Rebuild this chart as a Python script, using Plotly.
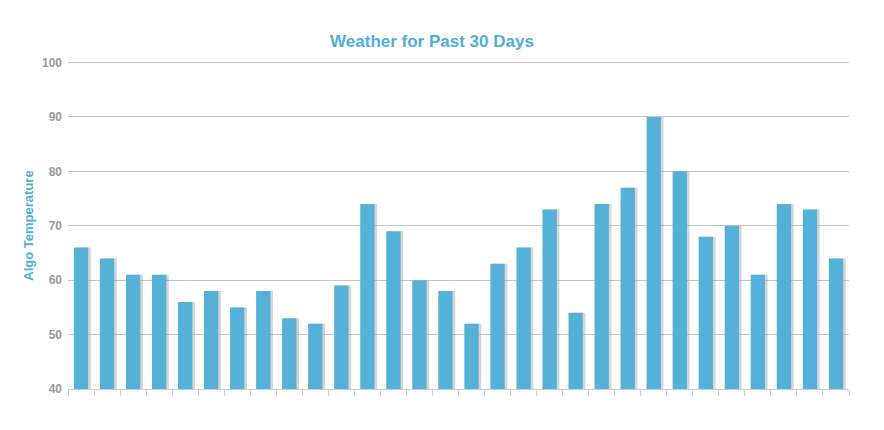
import plotly.graph_objects as go

days = [f"Day {i}" for i in range(1, 31)]
temps = [66, 64, 61, 61, 56, 58, 55, 58, 53, 52, 59, 74, 69, 60, 58, 52, 63, 66, 73, 54,
         74, 77, 90, 80, 68, 70, 61, 74, 73, 64]
y_ticks = [40, 50, 60, 70, 80, 90, 100]

bar_w = 0.55
fig = go.Figure()
# shadow
fig.add_trace(go.Bar(x=days, y=temps, width=bar_w, offset=-bar_w / 2 + 0.1,
                     marker=dict(color="rgba(150,150,150,0.4)", line=dict(width=0)),
                     hoverinfo="skip", showlegend=False))
fig.add_trace(go.Bar(x=days, y=temps, width=bar_w, offset=-bar_w / 2,
                     marker=dict(color="#56b1d9", line=dict(width=0)),
                     name="Temperature", showlegend=False))

# top gridline at the axis maximum
fig.add_shape(type="line", xref="paper", x0=0, x1=1, yref="y", y0=y_ticks[-1], y1=y_ticks[-1],
              line=dict(color="#c4c4c4", width=1), layer="below")

fig.update_layout(
    width=876, height=422,
    barmode="overlay",
    plot_bgcolor="white", paper_bgcolor="white",
    margin=dict(l=60, r=35, t=54, b=41),
    title=dict(text="<b>Weather for Past 30 Days</b>", x=0.484, xanchor="center",
               y=0.922, yanchor="middle",
               font=dict(family="Liberation Sans, Arial", size=17, color="#4eaedb")),
    font=dict(family="Liberation Sans, Arial"),
)
fig.update_xaxes(showticklabels=False, ticks="outside", tickson="boundaries", ticklen=6,
                 tickcolor="#c0d0e0", showline=True, linecolor="#c0d0e0", linewidth=1,
                 showgrid=False, range=[-0.5, 29.5])
fig.update_yaxes(range=[40, 100.1], tickvals=y_ticks,
                 ticktext=[f"<b>{v}</b>" for v in y_ticks],
                 tickfont=dict(size=12, color="#999999"),
                 showgrid=True, gridcolor="#c4c4c4", gridwidth=1, zeroline=False,
                 ticks="", ticklabelstandoff=5,
                 title=dict(text="<b>Algo Temperature</b>", standoff=5,
                            font=dict(size=13, color="#4eaedb")))

fig.write_html("out.html")
